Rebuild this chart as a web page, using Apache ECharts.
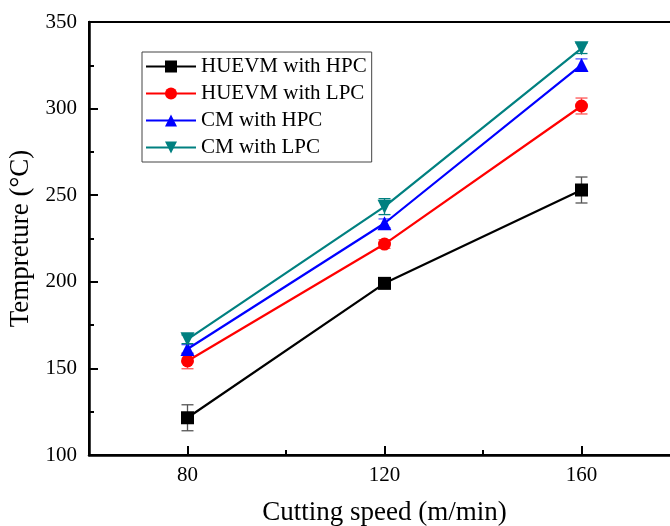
<!DOCTYPE html>
<html>
<head>
<meta charset="utf-8">
<script src="https://cdn.jsdelivr.net/npm/echarts@6/dist/echarts.min.js"></script>
<style>
  html, body { margin: 0; padding: 0; background: #fff; }
  #chart { width: 670px; height: 526px; }
</style>
</head>
<body>
<div id="chart"></div>
<script>
var speeds = [80, 120, 160];
var names = ['HUEVM with HPC', 'HUEVM with LPC', 'CM with HPC', 'CM with LPC'];
var colors = ['#000000', '#ff0000', '#0000ff', '#008080'];
var symbols = ['rect', 'circle', 'triangle', 'path://M0,0 L10,0 L5,9 Z'];
var symbolSizes = [13, 13, 14, 14];

// temperature means per series
var huevmHpc = [121.5, 199.1, 253.0];
var huevmLpc = [154.3, 221.8, 301.5];
var cmHpc    = [161.2, 233.8, 325.2];
var cmLpc    = [166.8, 243.4, 334.8];
// error bar half widths
var huevmHpcErr = [7.5, 1.5, 7.5];
var huevmLpcErr = [4.5, 2.5, 4.6];
var cmHpcErr    = [2.5, 2.5, 3.5];
var cmLpcErr    = [2.5, 4.6, 3.0];

var means = [huevmHpc, huevmLpc, cmHpc, cmLpc];
var errs = [huevmHpcErr, huevmLpcErr, cmHpcErr, cmLpcErr];
var errColors = ['#555555', '#ff5555', '#5555ff', '#008080'];

var chart = echarts.init(document.getElementById('chart'));
var serif = 'Liberation Serif';

function errorRender(color){
    return function(params, api){
        var x = api.value(0);
        var lo = api.coord([x, api.value(1)]);
        var hi = api.coord([x, api.value(2)]);
        var cap = 6;
        var st = { stroke: color, lineWidth: 1.3 };
        return {
            type: 'group',
            children: [
                { type: 'line', shape: { x1: lo[0], y1: lo[1], x2: hi[0], y2: hi[1] }, style: st },
                { type: 'line', shape: { x1: lo[0]-cap, y1: lo[1], x2: lo[0]+cap, y2: lo[1] }, style: st },
                { type: 'line', shape: { x1: hi[0]-cap, y1: hi[1], x2: hi[0]+cap, y2: hi[1] }, style: st }
            ]
        };
    };
}

var series = [];
for(var i=0; i<names.length; i++){
    var eb = [];
    var pts = [];
    for(var j=0; j<speeds.length; j++){
        eb.push([speeds[j], means[i][j]-errs[i][j], means[i][j]+errs[i][j]]);
        pts.push([speeds[j], means[i][j]]);
    }
    series.push({
        name: names[i] + ' err',
        type: 'custom',
        renderItem: errorRender(errColors[i]),
        data: eb,
        z: 1
    });
    series.push({
        name: names[i],
        type: 'line',
        data: pts,
        symbol: symbols[i],
        symbolSize: symbolSizes[i],
        itemStyle: { color: colors[i] },
        lineStyle: { color: colors[i], width: 2.2 },
        z: 3
    });
}

var option = {
    animation: false,
    backgroundColor: '#fff',
    grid: {
        left: 89, top: 22, right: -10, bottom: 71,
        outerBoundsMode: 'none',
        containLabel: false,
        show: true, borderColor: '#000', borderWidth: 2
    },
    legend: {
        data: names,
        orient: 'vertical',
        left: 142, top: 52,
        itemWidth: 50, itemHeight: 15, itemGap: 6,
        padding: [4, 5, 4, 3],
        borderColor: '#444', borderWidth: 1,
        textStyle: { fontFamily: serif, fontSize: 21, color: '#000' }
    },
    xAxis: [{
        type: 'value', min: 60, max: 180, interval: 20,
        position: 'bottom',
        name: 'Cutting speed (m/min)', nameLocation: 'middle', nameGap: 44,
        nameTextStyle: { fontFamily: serif, fontSize: 27, color: '#000' },
        axisLine: { lineStyle: { color: '#000', width: 2.5 } },
        axisTick: { inside: true, length: 5, lineStyle: { color: '#000', width: 2 } },
        axisLabel: { customValues: speeds, margin: 10, fontFamily: serif, fontSize: 21, color: '#000' },
        splitLine: { show: false }
    }, {
        type: 'value', min: 60, max: 180,
        position: 'bottom',
        axisLine: { show: false },
        axisTick: { inside: true, length: 9, customValues: speeds, lineStyle: { color: '#000', width: 2 } },
        axisLabel: { show: false },
        splitLine: { show: false }
    }],
    yAxis: {
        type: 'value', min: 100, max: 350, interval: 50,
        name: 'Tempreture (°C)', nameLocation: 'middle', nameGap: 49,
        nameTextStyle: { fontFamily: serif, fontSize: 27, color: '#000' },
        axisLine: { show: true, lineStyle: { color: '#000', width: 2.5 } },
        axisTick: { inside: true, length: 9, lineStyle: { color: '#000', width: 2 } },
        minorTick: { show: true, splitNumber: 2, length: 5, lineStyle: { color: '#000', width: 2 } },
        axisLabel: { margin: 12, fontFamily: serif, fontSize: 21, color: '#000' },
        splitLine: { show: false }
    },
    series: series
};

chart.setOption(option);
</script>
</body>
</html>
